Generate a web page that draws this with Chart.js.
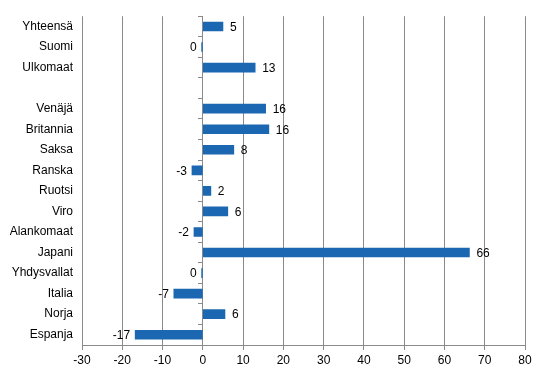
<!DOCTYPE html>
<html>
<head>
<meta charset="utf-8">
<script src="https://cdn.jsdelivr.net/npm/chart.js@4/dist/chart.umd.min.js"></script>
<style>
    html, body { margin: 0; padding: 0; background: #FFFFFF; }
    #wrap { width: 546px; height: 376px; }
</style>
</head>
<body>
<div id="wrap"><canvas id="chartMuutos"></canvas></div>
<script>
const maat = [
    "Yhteensä", "Suomi", "Ulkomaat", "",
    "Venäjä", "Britannia", "Saksa", "Ranska", "Ruotsi", "Viro",
    "Alankomaat", "Japani", "Yhdysvallat", "Italia", "Norja", "Espanja",
];

const muutos = [
    5, -0.3, 13, null,
    15.6, 16.4, 7.7, -2.7, 2, 6.2,
    -2.2, 66.2, -0.3, -7.2, 5.5, -16.8,
];

const xTicks = [-30, -20, -10, 0, 10, 20, 30, 40, 50, 60, 70, 80];

const fontti = { family: "'Liberation Sans', Arial, sans-serif", size: 12 };

// arvot palkkien päähän
const arvoLabels = {
    id: "arvoLabels",
    afterDatasetsDraw(chart) {
        const ctx = chart.ctx;
        const meta = chart.getDatasetMeta(0);
        ctx.save();
        ctx.font = "12px 'Liberation Sans', Arial, sans-serif";
        ctx.fillStyle = "#000000";
        ctx.textBaseline = "middle";
        meta.data.forEach((bar, i) => {
            const v = muutos[i];
            if (v === null) return;
            const txt = String(Math.round(v) || 0);
            if (v >= 0) {
                ctx.textAlign = "left";
                ctx.fillText(txt, bar.x + 7, bar.y + 1);
            } else {
                ctx.textAlign = "right";
                ctx.fillText(txt, bar.x - 5, bar.y + 1);
            }
        });
        ctx.restore();
    }
};

new Chart(document.getElementById("chartMuutos"), {
    type: "bar",
    data: {
        labels: maat,
        datasets: [{
            data: muutos,
            backgroundColor: "#1b67b1",
            barThickness: 9,
        }]
    },
    plugins: [arvoLabels],
    options: {
        indexAxis: "y",
        responsive: true,
        maintainAspectRatio: false,
        animation: false,
        layout: { padding: { top: 14, right: 21, bottom: 0, left: 0 } },
        plugins: {
            legend: { display: false },
            tooltip: { enabled: false },
        },
        scales: {
            x: {
                min: -30,
                max: 80,
                afterBuildTicks: (scale) => {
                    scale.ticks = xTicks.map(v => ({ value: v }));
                },
                grid: {
                    color: "#8a8a8a",
                    tickLength: 5,
                },
                border: { color: "#8a8a8a" },
                ticks: {
                    color: "#000000",
                    font: fontti,
                    padding: 3,
                },
                afterFit: (scale) => { scale.height = 31; },
            },
            y: {
                grid: { display: false, drawTicks: false },
                border: { display: false },
                ticks: {
                    color: "#000000",
                    font: fontti,
                    padding: 9,
                },
                afterFit: (scale) => { scale.width = 82; },
            },
            y0: {
                type: "category",
                position: { x: 0 },
                grid: {
                    drawOnChartArea: false,
                    color: "#8a8a8a",
                    tickLength: 4,
                },
                border: { color: "#8a8a8a" },
                ticks: { display: false },
            },
        },
    },
});
</script>
</body>
</html>
